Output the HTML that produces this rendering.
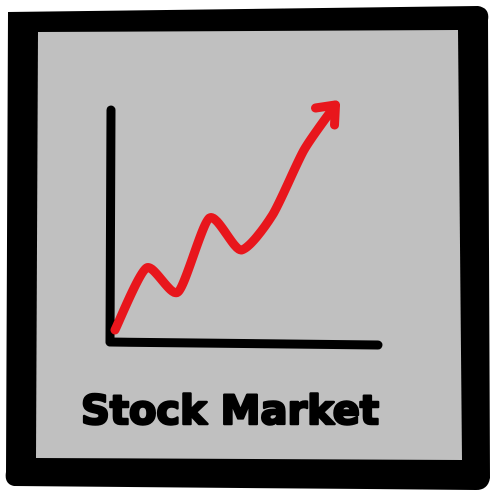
<!DOCTYPE html>
<html>
<head>
<meta charset="utf-8">
<style>
html,body{margin:0;padding:0;background:#fff;}
svg{display:block;}
</style>
</head>
<body>
<svg width="500" height="500" viewBox="0 0 500 500">
  <path d="M8,12 L478,6 Q490,8 488,20 L490,478 Q488,490 476,490 L14,486 Q4,484 6,472 Z" fill="#000"/>
  <path d="M38,32 L458,30 L462,460 L36,458 Z" fill="#c0c0c0"/>
  <g id="axes" stroke="#000" stroke-width="9" stroke-linecap="round" fill="none">
    <line x1="111" y1="110" x2="110" y2="342"/>
    <line x1="110" y1="342" x2="378" y2="345"/>
  </g>
  <g id="series"></g>
  <text x="230" y="424" text-anchor="middle" font-family="'DejaVu Sans','Liberation Sans',sans-serif" font-weight="bold" font-size="40" fill="#000" stroke="#000" stroke-width="2.5" stroke-linejoin="round">Stock Market</text>
</svg>
<script>
const xValues = [0, 1, 2, 3, 4, 5, 6, 7];
const yValues = [0, 6.2, 3.8, 11.2, 8.0, 11.5, 18.0, 22.5];
function xScale(v){ return 115 + v * 31.5; }
function yScale(v){ return 330 - v * 10; }
const ns = 'http://www.w3.org/2000/svg';
const g = document.getElementById('series');
const pts = xValues.map((v, i) => [xScale(v), yScale(yValues[i])]);
let d = 'M' + pts[0][0] + ',' + pts[0][1];
const t = 0.12;
for (let i = 1; i < pts.length; i++) {
  const p0 = pts[Math.max(0, i-2)], p1 = pts[i-1], p2 = pts[i], p3 = pts[Math.min(pts.length-1, i+1)];
  const c1x = p1[0] + (p2[0]-p0[0]) * t, c1y = p1[1] + (p2[1]-p0[1]) * t;
  const c2x = p2[0] - (p3[0]-p1[0]) * t, c2y = p2[1] - (p3[1]-p1[1]) * t;
  d += ' C' + c1x + ',' + c1y + ' ' + c2x + ',' + c2y + ' ' + p2[0] + ',' + p2[1];
}
const path = document.createElementNS(ns, 'path');


path.setAttribute('d', d);
path.setAttribute('fill', 'none');
path.setAttribute('stroke', '#e8161c');
path.setAttribute('stroke-width', '9');
path.setAttribute('stroke-linecap', 'round');
path.setAttribute('stroke-linejoin', 'round');
g.appendChild(path);
const lx = pts[pts.length-1][0], ly = pts[pts.length-1][1];
const arrow = document.createElementNS(ns, 'path');


arrow.setAttribute('d', 'M' + (lx-20) + ',' + (ly+3) + ' L' + lx + ',' + ly + ' L' + (lx-1) + ',' + (ly+20));
arrow.setAttribute('fill', 'none');
arrow.setAttribute('stroke', '#e8161c');
arrow.setAttribute('stroke-width', '9');
arrow.setAttribute('stroke-linecap', 'round');
arrow.setAttribute('stroke-linejoin', 'round');
g.appendChild(arrow);
</script>
</body>
</html>
